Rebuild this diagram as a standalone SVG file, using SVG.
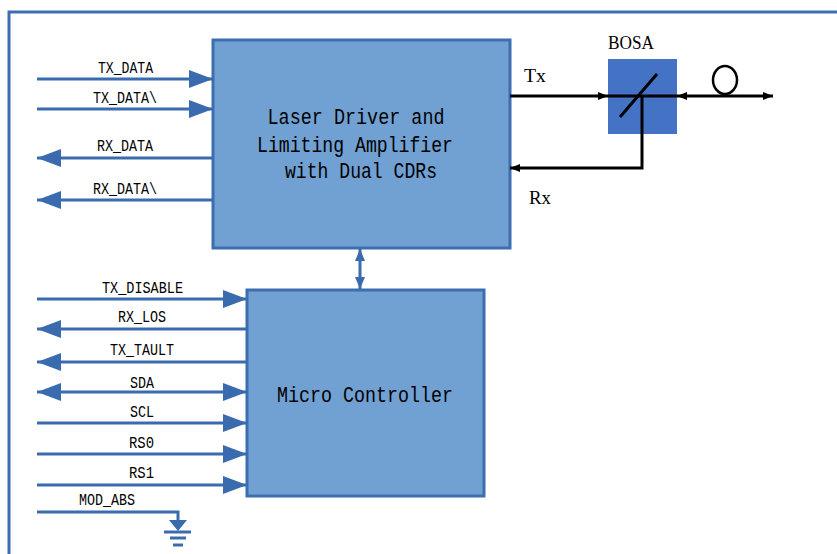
<svg xmlns="http://www.w3.org/2000/svg" width="837" height="554" viewBox="0 0 837 554">
<style>
.blk{fill:#71a0d2;stroke:#3d6eb0;stroke-width:3}
.sig{stroke:#3a6bae;stroke-width:3;fill:none}
.blk-line{stroke:#000;stroke-width:3;fill:none}
.lbl{font-family:"Liberation Mono",monospace;font-size:16.5px;fill:#000;text-anchor:middle}
.big{font-family:"Liberation Mono",monospace;font-size:22px;fill:#000;text-anchor:middle}
.ser{font-family:"Liberation Serif",serif;font-size:18px;fill:#000}
</style>
<defs>
<marker id="ab" markerUnits="userSpaceOnUse" markerWidth="24" markerHeight="18" refX="24" refY="9" orient="auto-start-reverse"><path d="M0,0 L24,9 L0,18 z" fill="#3a6bae"/></marker>
<marker id="as" markerUnits="userSpaceOnUse" markerWidth="12" markerHeight="10" refX="12" refY="5" orient="auto-start-reverse"><path d="M0,0 L12,5 L0,10 z" fill="#3a6bae"/></marker>
<marker id="ak" markerUnits="userSpaceOnUse" markerWidth="10" markerHeight="10" refX="10" refY="5" orient="auto-start-reverse"><path d="M0,1 L10,5 L0,9 z" fill="#000"/></marker>
</defs>
<rect width="837" height="554" fill="#fff"/>
<path d="M9,554 V12 H837" fill="none" stroke="#3d6eb0" stroke-width="3"/>

<g id="ldla">
<rect class="blk" x="213" y="40" width="297" height="208"/>
<text class="big" x="356" y="124" textLength="177" lengthAdjust="spacingAndGlyphs">Laser Driver and</text>
<text class="big" x="355" y="152" textLength="196" lengthAdjust="spacingAndGlyphs">Limiting Amplifier</text>
<text class="big" x="361" y="178" textLength="152" lengthAdjust="spacingAndGlyphs">with Dual CDRs</text>
</g>

<g id="mcu">
<rect class="blk" x="247" y="290" width="237" height="206"/>
<text class="big" x="365" y="402" textLength="176" lengthAdjust="spacingAndGlyphs">Micro Controller</text>
</g>

<g id="bosa">
<rect x="608" y="59" width="69" height="75" fill="#4472c4"/>
<text class="ser" x="608" y="49" textLength="46" lengthAdjust="spacingAndGlyphs">BOSA</text>
</g>

<g id="connectors">
<line class="sig" x1="37" y1="79" x2="213" y2="79" marker-end="url(#ab)"/>
<line class="sig" x1="37" y1="109" x2="213" y2="109" marker-end="url(#ab)"/>
<line class="sig" x1="213" y1="158" x2="37" y2="158" marker-end="url(#ab)"/>
<line class="sig" x1="213" y1="200" x2="37" y2="200" marker-end="url(#ab)"/>
<line class="sig" x1="360" y1="249" x2="360" y2="289" marker-start="url(#as)" marker-end="url(#as)"/>
<line class="sig" x1="37" y1="299" x2="247" y2="299" marker-end="url(#ab)"/>
<line class="sig" x1="247" y1="329" x2="37" y2="329" marker-end="url(#ab)"/>
<line class="sig" x1="247" y1="362" x2="37" y2="362" marker-end="url(#ab)"/>
<line class="sig" x1="37" y1="392" x2="247" y2="392" marker-start="url(#ab)" marker-end="url(#ab)"/>
<line class="sig" x1="37" y1="423" x2="247" y2="423" marker-end="url(#ab)"/>
<line class="sig" x1="37" y1="454" x2="247" y2="454" marker-end="url(#ab)"/>
<line class="sig" x1="37" y1="485" x2="247" y2="485" marker-end="url(#ab)"/>
<path class="sig" d="M37,512 H178 V520"/>
<path d="M169,520 H187 L178,531 z" fill="#3a6bae"/>
<line class="sig" x1="164" y1="532" x2="191" y2="532"/>
<line class="sig" x1="170" y1="538" x2="186" y2="538"/>
<line class="sig" x1="173" y1="545" x2="183" y2="545"/>

<line class="blk-line" x1="510" y1="96" x2="608" y2="96" marker-end="url(#ak)"/>
<line class="blk-line" x1="608" y1="96" x2="677" y2="96"/>
<line class="blk-line" x1="677" y1="96" x2="773" y2="96" marker-start="url(#ak)" marker-end="url(#ak)"/>
<ellipse cx="725" cy="80" rx="12" ry="14" fill="none" stroke="#000" stroke-width="2.5"/>
<line class="blk-line" x1="620" y1="117" x2="657" y2="74"/>
<path class="blk-line" d="M642,96 V168 H510" marker-end="url(#ak)"/>
</g>

<g id="labels">
<text class="lbl" x="125.5" y="73" textLength="55" lengthAdjust="spacingAndGlyphs">TX_DATA</text>
<text class="lbl" x="125" y="103" textLength="64" lengthAdjust="spacingAndGlyphs">TX_DATA\</text>
<text class="lbl" x="125" y="151" textLength="56" lengthAdjust="spacingAndGlyphs">RX_DATA</text>
<text class="lbl" x="125" y="194" textLength="64" lengthAdjust="spacingAndGlyphs">RX_DATA\</text>
<text class="lbl" x="142.5" y="293" textLength="81" lengthAdjust="spacingAndGlyphs">TX_DISABLE</text>
<text class="lbl" x="142" y="322" textLength="48" lengthAdjust="spacingAndGlyphs">RX_LOS</text>
<text class="lbl" x="142" y="355" textLength="64" lengthAdjust="spacingAndGlyphs">TX_TAULT</text>
<text class="lbl" x="142" y="388" textLength="24" lengthAdjust="spacingAndGlyphs">SDA</text>
<text class="lbl" x="142" y="417" textLength="24" lengthAdjust="spacingAndGlyphs">SCL</text>
<text class="lbl" x="141.5" y="448" textLength="25" lengthAdjust="spacingAndGlyphs">RS0</text>
<text class="lbl" x="141.5" y="478" textLength="25" lengthAdjust="spacingAndGlyphs">RS1</text>
<text class="lbl" x="107" y="505" textLength="56" lengthAdjust="spacingAndGlyphs">MOD_ABS</text>
<text class="ser" x="524" y="82" textLength="22" lengthAdjust="spacingAndGlyphs">Tx</text>
<text class="ser" x="529" y="204" textLength="22" lengthAdjust="spacingAndGlyphs">Rx</text>
</g>
</svg>
